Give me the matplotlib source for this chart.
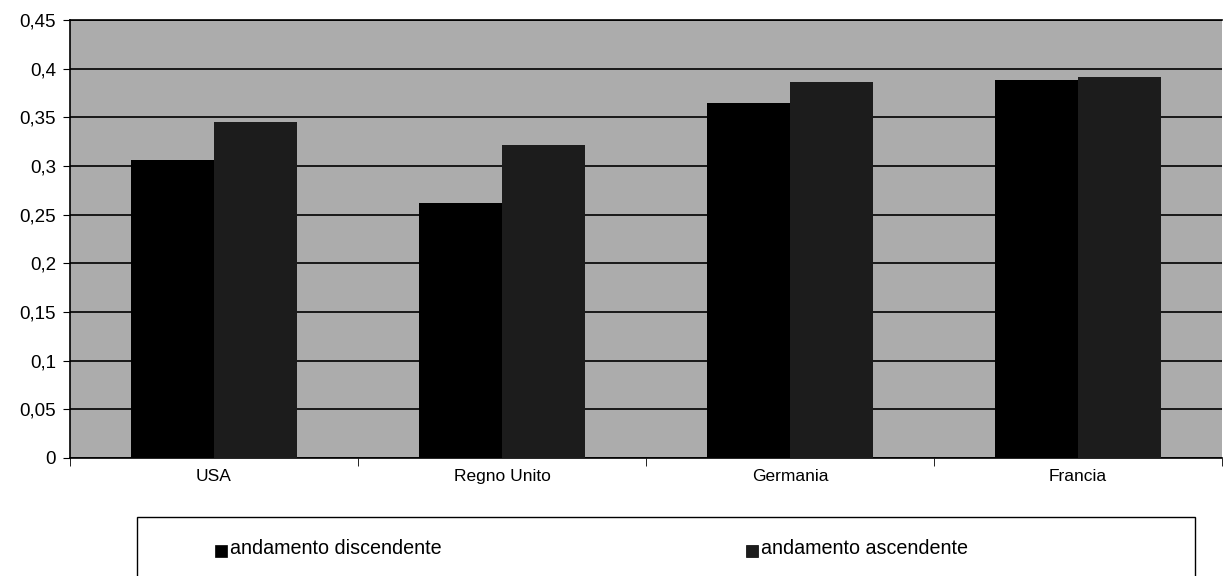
import numpy as np
import matplotlib.pyplot as plt
from matplotlib.patches import Rectangle
from matplotlib.ticker import FuncFormatter, FixedLocator

plt.rcParams["font.family"] = ["Liberation Sans", "DejaVu Sans"]

categories = ["USA", "Regno Unito", "Germania", "Francia"]
discendente = [0.306, 0.262, 0.365, 0.388]
ascendente = [0.345, 0.322, 0.386, 0.391]
series_labels = ["andamento discendente", "andamento ascendente"]
y_ticks = [0, 0.05, 0.1, 0.15, 0.2, 0.25, 0.3, 0.35, 0.4, 0.45]

fig = plt.figure(figsize=(12.24, 5.76), dpi=100)
ax = fig.add_axes([70 / 1224, 1 - 458 / 576, 1152 / 1224, 438 / 576])
ax.set_facecolor("#acacac")

x = np.arange(len(categories))
w = 0.288
b1 = ax.bar(x - w / 2, discendente, w, color="#000000", zorder=3)
b2 = ax.bar(x + w / 2, ascendente, w, color="#1c1c1c", zorder=3)

ax.set_xlim(-0.5, len(categories) - 0.5)
ax.set_ylim(0, 0.45)
ax.yaxis.set_major_locator(FixedLocator(y_ticks))
ax.yaxis.set_major_formatter(
    FuncFormatter(lambda v, _: ("%g" % round(v, 2)).replace(".", ","))
)
ax.grid(axis="y", color="black", linewidth=1.2, zorder=1)
ax.set_axisbelow(True)

ax.set_xticks(x)
ax.set_xticklabels(categories)
ax.set_xticks(np.arange(len(categories) + 1) - 0.5, minor=True)
ax.tick_params(axis="x", which="major", length=0, pad=8, labelsize=12.5)
ax.tick_params(axis="x", which="minor", length=6, direction="out")
ax.tick_params(axis="y", length=5, labelsize=13.5, pad=5)

for s in ["left", "bottom", "top"]:
    ax.spines[s].set_linewidth(1.2)
ax.spines["right"].set_visible(False)

# legend box (bottom, partially cut off)
fig.patches.append(
    Rectangle((137 / 1224, -0.05), (1195 - 137) / 1224, 0.05 + (576 - 517) / 576,
              transform=fig.transFigure, facecolor="white", edgecolor="black",
              linewidth=1.0)
)
for handle, label, xs in [(b1, series_labels[0], 215), (b2, series_labels[1], 746)]:
    fig.patches.append(
        Rectangle((xs / 1224, 1 - 557 / 576), 12 / 1224, 12 / 576,
                  transform=fig.transFigure,
                  facecolor=handle.patches[0].get_facecolor(), edgecolor="black",
                  linewidth=0.5)
    )
    fig.text((xs + 15) / 1224, 1 - 549 / 576, label, fontsize=14.2,
             va="center", ha="left")

fig.savefig("out.png", dpi=100)
